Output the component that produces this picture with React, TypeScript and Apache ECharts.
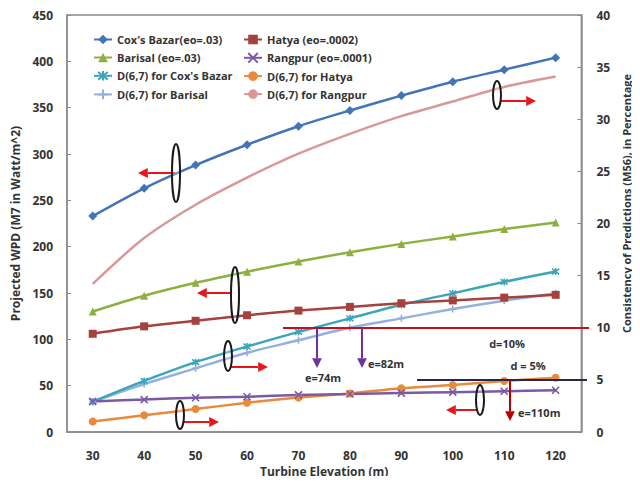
import React, { useEffect, useRef } from "react";
import * as echarts from "echarts";

const elevations = ["30", "40", "50", "60", "70", "80", "90", "100", "110", "120"];

const coxBazar = [233, 263, 288, 310, 330, 347, 363, 378, 391, 404];
const hatya = [106, 114, 120, 126, 131, 135, 139, 142, 145, 148];
const barisal = [130, 147, 161, 173, 184, 194, 203, 211, 219, 226];
const rangpur = [33, 35, 37, 38, 40, 41, 42, 43, 44, 45];

const dCoxBazar = [2.9, 4.9, 6.7, 8.2, 9.6, 10.9, 12.2, 13.3, 14.4, 15.4];
const dHatya = [1.0, 1.6, 2.2, 2.8, 3.3, 3.7, 4.2, 4.5, 4.9, 5.2];
const dBarisal = [2.9, 4.6, 6.1, 7.6, 8.8, 10.0, 10.9, 11.8, 12.6, 13.3];
const dRangpur = [14.2, 18.6, 21.8, 24.4, 26.7, 28.6, 30.3, 31.7, 33.1, 34.1];

const leftTicks = { min: 0, max: 450, interval: 50 };
const rightTicks = { min: 0, max: 40, interval: 5 };

const FONT = "'Open Sans', 'Noto Sans', sans-serif";

function arrow(x1: number, y1: number, x2: number, y2: number, color: string, head = 7, width = 2) {
  const dx = x2 - x1;
  const dy = y2 - y1;
  const len = Math.sqrt(dx * dx + dy * dy);
  const ux = dx / len;
  const uy = dy / len;
  const bx = x2 - ux * head * 1.4;
  const by = y2 - uy * head * 1.4;
  const px = -uy * head * 0.7;
  const py = ux * head * 0.7;
  return [
    { type: "line", shape: { x1, y1, x2: bx, y2: by }, style: { stroke: color, lineWidth: width }, z: 100 },
    {
      type: "polygon",
      shape: { points: [[x2, y2], [bx + px, by + py], [bx - px, by - py]] },
      style: { fill: color },
      z: 100,
    },
  ];
}

function ellipse(cx: number, cy: number, rx: number, ry: number) {
  return {
    type: "ellipse",
    shape: { cx, cy, rx, ry },
    style: { stroke: "#1a1a1a", lineWidth: 2, fill: "rgba(255,255,255,0.25)" },
    z: 101,
  };
}

function label(text: string, x: number, y: number, align = "center") {
  return {
    type: "text",
    x,
    y,
    style: { text, fill: "#333", font: `bold 11px ${FONT}`, align, verticalAlign: "middle" },
    z: 102,
  };
}

export default function App() {
  const ref = useRef<HTMLDivElement>(null);
  useEffect(() => {
    if (!ref.current) return;
    const chart = echarts.init(ref.current, undefined, { renderer: "svg" });
    const RED = "#e8161b";
    const mk = (name: string, data: number[], color: string, symbol: string, yAxisIndex: number, size = 7, stroke = false) => ({
      name,
      type: "line",
      data,
      yAxisIndex,
      smooth: 0.3,
      symbol,
      symbolSize: size,
      showSymbol: symbol !== "none",
      lineStyle: { color, width: 2.5 },
      itemStyle: stroke ? { color, borderColor: color, borderWidth: 1.6 } : { color },
    });
    const xPath = "path://M0,0L10,10M10,0L0,10";
    const starPath = "path://M5,0L5,10M1,1L9,9M9,1L1,9";
    const plusPath = "path://M5,0L5,10M0,5L10,5";
    const legendBase = {
      orient: "vertical",
      top: 34,
      padding: 0,
      itemGap: 7,
      itemWidth: 18,
      itemHeight: 12,
      textStyle: { fontSize: 11, fontWeight: "bold", color: "#333", fontFamily: FONT },
    };
    const option = {
      animation: false,
      textStyle: { fontFamily: FONT },
      grid: { left: 67, right: 50, top: 15, bottom: 52, show: true, borderColor: "#8c8c8c", borderWidth: 1.5 },
      legend: [
        {
          ...legendBase,
          left: 93,
          data: ["Cox's Bazar(eo=.03)", "Barisal (eo=.03)", "D(6,7) for Cox's Bazar", "D(6,7) for Barisal"],
        },
        {
          ...legendBase,
          left: 243,
          data: ["Hatya (eo=.0002)", "Rangpur (eo=.0001)", "D(6,7) for Hatya", "D(6,7) for Rangpur"],
        },
      ],
      xAxis: {
        type: "category",
        data: elevations,
        boundaryGap: true,
        name: "Turbine Elevation (m)",
        nameLocation: "middle",
        nameGap: 31,
        nameTextStyle: { fontSize: 12, fontWeight: "bold", color: "#333" },
        axisLine: { lineStyle: { color: "#8c8c8c", width: 1.5 } },
        axisTick: { inside: true, length: 5, lineStyle: { color: "#8c8c8c" } },
        axisLabel: { fontSize: 12, fontWeight: "bold", color: "#333", margin: 17 },
        splitLine: { show: false },
      },
      yAxis: [
        {
          type: "value",
          ...leftTicks,
          name: "Projected WPD (M7 in Watt/m^2)",
          nameLocation: "middle",
          nameGap: 42,
          nameRotate: 90,
          nameTextStyle: { fontSize: 12, fontWeight: "bold", color: "#333" },
          axisLine: { show: true, lineStyle: { color: "#8c8c8c", width: 1.5 } },
          axisTick: { show: true, inside: true, length: 4, lineStyle: { color: "#8c8c8c" } },
          axisLabel: { fontSize: 12, fontWeight: "bold", color: "#333", margin: 14 },
          splitLine: { show: false },
        },
        {
          type: "value",
          ...rightTicks,
          position: "right",
          name: "Consistency of Predictions (M56), in Percentage",
          nameLocation: "middle",
          nameGap: 35,
          nameRotate: 90,
          nameTextStyle: { fontSize: 11, fontWeight: "bold", color: "#333", padding: [0, 0, 0, 40] },
          axisLine: { show: true, lineStyle: { color: "#8c8c8c", width: 1.5 } },
          axisTick: { show: true, inside: true, length: 4, lineStyle: { color: "#8c8c8c" } },
          axisLabel: { fontSize: 12, fontWeight: "bold", color: "#333", margin: 15 },
          splitLine: { show: false },
        },
      ],
      series: [
        mk("D(6,7) for Rangpur", dRangpur, "#d99897", "none", 1),
        mk("D(6,7) for Barisal", dBarisal, "#94b1dd", plusPath, 1, 7, true),
        mk("D(6,7) for Cox's Bazar", dCoxBazar, "#3aa6b9", starPath, 1, 7, true),
        mk("D(6,7) for Hatya", dHatya, "#e78a3a", "circle", 1, 8),
        mk("Rangpur (eo=.0001)", rangpur, "#7a5aa6", xPath, 0, 7, true),
        mk("Hatya (eo=.0002)", hatya, "#a5413e", "rect", 0, 8),
        mk("Barisal (eo=.03)", barisal, "#8cb13e", "triangle", 0, 8),
        mk("Cox's Bazar(eo=.03)", coxBazar, "#4373b9", "diamond", 0, 9),
      ],
      graphic: [
        { type: "line", shape: { x1: 283, y1: 328, x2: 589, y2: 328 }, style: { stroke: "#c8101a", lineWidth: 2 }, z: 99 },
        { type: "line", shape: { x1: 417, y1: 380, x2: 587, y2: 380 }, style: { stroke: "#2a2550", lineWidth: 2 }, z: 99 },
        ...arrow(317, 328, 317, 368, "#7030a0"),
        ...arrow(362, 328, 362, 368, "#7030a0"),
        ...arrow(510, 380, 510, 421, "#c00000"),
        label("e=74m", 323, 377),
        label("e=82m", 368, 363, "left"),
        label("d=10%", 507, 343),
        label("d = 5%", 528, 365),
        label("e=110m", 518, 412, "left"),
        ellipse(176, 173, 4, 29),
        ...arrow(175, 173, 138, 173, RED),
        ellipse(235, 295, 4, 28),
        ...arrow(232, 293, 197, 293, RED),
        ellipse(228, 356, 4, 15),
        ...arrow(231, 367, 268, 367, RED),
        ellipse(497, 95, 4, 14),
        ...arrow(500, 101, 536, 101, RED),
        ellipse(480, 400, 4, 15),
        ...arrow(477, 410, 446, 410, RED),
        ellipse(180, 415, 4, 14),
        ...arrow(183, 422, 219, 422, RED),
      ],
    };
    chart.setOption(option as any);
    return () => chart.dispose();
  }, []);
  return <div ref={ref} style={{ width: 640, height: 484, margin: -8 }} />;
}
